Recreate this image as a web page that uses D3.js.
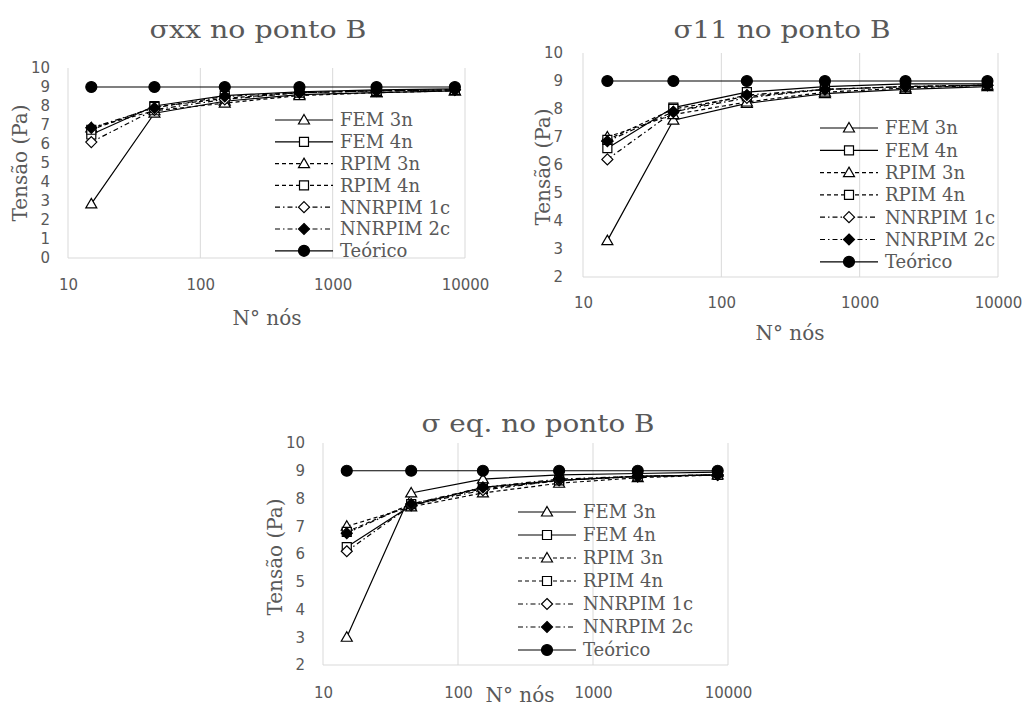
<!DOCTYPE html>
<html>
<head>
<meta charset="utf-8">
<script src="https://cdn.jsdelivr.net/npm/d3@7"></script>
<style>
  html, body { margin: 0; padding: 0; background: #fff; }
  svg { display: block; }
</style>
</head>
<body>
<svg id="chart" width="1029" height="709"></svg>
<script>
// ---------- DATA ----------
const nodes = [15, 45, 153, 561, 2145, 8385];
const seriesNames = ["FEM 3n", "FEM 4n", "RPIM 3n", "RPIM 4n", "NNRPIM 1c", "NNRPIM 2c", "Teórico"];
const xTickValues = [10, 100, 1000, 10000];
const yTicksA = [0, 1, 2, 3, 4, 5, 6, 7, 8, 9, 10];
const yTicksB = [2, 3, 4, 5, 6, 7, 8, 9, 10];

// σxx
const sxxFEM3n  = [2.85, 7.62, 8.25, 8.6, 8.7, 8.8];
const sxxFEM4n  = [6.5, 8.0, 8.55, 8.75, 8.85, 8.9];
const sxxRPIM3n = [6.85, 7.75, 8.15, 8.55, 8.7, 8.8];
const sxxRPIM4n = [6.75, 7.95, 8.4, 8.7, 8.8, 8.85];
const sxxNN1c   = [6.1, 7.8, 8.35, 8.7, 8.8, 8.85];
const sxxNN2c   = [6.85, 7.9, 8.5, 8.7, 8.8, 8.85];
const sxxTeo    = [9, 9, 9, 9, 9, 9];

// σ11
const s11FEM3n  = [3.3, 7.6, 8.2, 8.55, 8.7, 8.8];
const s11FEM4n  = [6.6, 8.05, 8.6, 8.8, 8.9, 8.9];
const s11RPIM3n = [7.0, 7.8, 8.25, 8.6, 8.75, 8.85];
const s11RPIM4n = [6.9, 8.0, 8.45, 8.7, 8.8, 8.85];
const s11NN1c   = [6.2, 7.9, 8.4, 8.7, 8.8, 8.85];
const s11NN2c   = [6.85, 7.9, 8.5, 8.7, 8.8, 8.85];
const s11Teo    = [9, 9, 9, 9, 9, 9];

// σ eq.
const seqFEM3n  = [3.0, 8.2, 8.7, 8.85, 8.9, 8.95];
const seqFEM4n  = [6.25, 7.75, 8.4, 8.65, 8.8, 8.85];
const seqRPIM3n = [7.0, 7.7, 8.2, 8.55, 8.75, 8.85];
const seqRPIM4n = [6.8, 7.8, 8.35, 8.65, 8.8, 8.85];
const seqNN1c   = [6.1, 7.75, 8.3, 8.65, 8.8, 8.85];
const seqNN2c   = [6.75, 7.8, 8.4, 8.7, 8.8, 8.85];
const seqTeo    = [9, 9, 9, 9, 9, 9];

// ---------- STYLES ----------
const markerTypes = ["triOpen", "sqOpen", "triOpen", "sqOpen", "diaOpen", "diaFill", "circFill"];
const dashTypes = [null, null, "4,3", "4,3", "5,3,1.5,3", "5,3,1.5,3", null];
const gray = "#595959";
const gridColor = "#d9d9d9";
const serif = "'DejaVu Serif', 'Liberation Serif', serif";
const sans = "'DejaVu Sans', sans-serif";

function markerPath(type) {
  switch (type) {
    case "triOpen": return "M0,-5.5L5.5,4L-5.5,4Z";
    case "sqOpen": return "M-4.5,-4.5H4.5V4.5H-4.5Z";
    case "diaOpen":
    case "diaFill": return "M0,-5.5L5.5,0L0,5.5L-5.5,0Z";
    case "circFill": return d3.symbol(d3.symbolCircle, 95)();
  }
}
function drawMarker(g, type, x, y) {
  const filled = type === "diaFill" || type === "circFill";
  g.append("path")
    .attr("d", markerPath(type))
    .attr("transform", `translate(${x},${y})`)
    .attr("fill", filled ? "#000" : "#fff")
    .attr("stroke", "#000")
    .attr("stroke-width", 1.2);
}

const svg = d3.select("#chart");

function drawChart(cfg) {
  const g = svg.append("g");
  const x = d3.scaleLog().domain([10, 10000]).range([cfg.left, cfg.right]);
  const y = d3.scaleLinear().domain(cfg.yDomain).range([cfg.bottom, cfg.top]);

  // vertical gridlines
  g.selectAll(".grid").data(xTickValues).enter().append("line")
    .attr("x1", d => x(d)).attr("x2", d => x(d))
    .attr("y1", cfg.top).attr("y2", cfg.bottom)
    .attr("stroke", gridColor).attr("stroke-width", 1);
  // bottom axis line
  g.append("line")
    .attr("x1", cfg.left).attr("x2", cfg.right)
    .attr("y1", y(cfg.yDomain[0])).attr("y2", y(cfg.yDomain[0]))
    .attr("stroke", gridColor).attr("stroke-width", 1);

  // x tick labels
  const xAxis = d3.axisBottom(x).tickValues(xTickValues).tickFormat(d3.format("d")).tickSize(0).tickPadding(0);
  const xa = g.append("g").attr("transform", `translate(0,${cfg.bottom + cfg.xLabelOffset})`).call(xAxis);
  xa.select(".domain").remove();
  xa.selectAll("text").attr("font-family", sans).attr("font-size", 15).attr("fill", gray).attr("dy", "0.35em");

  // y tick labels
  const yAxis = d3.axisLeft(y).tickValues(cfg.yTicks).tickFormat(d3.format("d")).tickSize(0).tickPadding(0);
  const ya = g.append("g").attr("transform", `translate(${cfg.left - cfg.yLabelGap},0)`).call(yAxis);
  ya.select(".domain").remove();
  ya.selectAll("text").attr("font-family", sans).attr("font-size", 15).attr("fill", gray);

  // series
  const line = d3.line().x((d, i) => x(nodes[i])).y(d => y(d));
  cfg.series.forEach((vals, si) => {
    g.append("path")
      .attr("d", line(vals))
      .attr("fill", "none")
      .attr("stroke", "#000")
      .attr("stroke-width", 1.2)
      .attr("stroke-dasharray", dashTypes[si]);
  });
  cfg.series.forEach((vals, si) => {
    vals.forEach((v, i) => drawMarker(g, markerTypes[si], x(nodes[i]), y(v)));
  });

  // title
  g.append("text")
    .attr("x", cfg.titleX).attr("y", cfg.titleY)
    .attr("text-anchor", "middle")
    .attr("font-family", serif).attr("font-size", 25).attr("fill", gray)
    .attr("textLength", cfg.titleW).attr("lengthAdjust", "spacingAndGlyphs")
    .text(cfg.title);

  // axis titles
  g.append("text")
    .attr("x", cfg.xTitleX).attr("y", cfg.xTitleY)
    .attr("text-anchor", "middle")
    .attr("font-family", serif).attr("font-size", 20).attr("fill", gray)
    .text("N° nós");
  g.append("text")
    .attr("transform", `translate(${cfg.yTitleX},${cfg.yTitleY}) rotate(-90)`)
    .attr("text-anchor", "middle").attr("dy", "0.35em")
    .attr("font-family", serif).attr("font-size", 20).attr("fill", gray)
    .text("Tensão (Pa)");

  // legend
  const lg = g.append("g");
  seriesNames.forEach((name, si) => {
    const ry = cfg.legY + si * cfg.legStep;
    lg.append("line")
      .attr("x1", cfg.legX).attr("x2", cfg.legX + 58)
      .attr("y1", ry).attr("y2", ry)
      .attr("stroke", "#000").attr("stroke-width", 1.2)
      .attr("stroke-dasharray", dashTypes[si]);
    drawMarker(lg, markerTypes[si], cfg.legX + 29, ry);
    lg.append("text")
      .attr("x", cfg.legX + 65).attr("y", ry).attr("dy", "0.36em")
      .attr("font-family", serif).attr("font-size", 18).attr("fill", gray)
      .text(name);
  });
}

drawChart({
  left: 68, right: 465, top: 68, bottom: 258,
  yDomain: [0, 10], yTicks: yTicksA, yLabelGap: 18, xLabelOffset: 27,
  series: [sxxFEM3n, sxxFEM4n, sxxRPIM3n, sxxRPIM4n, sxxNN1c, sxxNN2c, sxxTeo],
  title: "σxx no ponto B", titleX: 258, titleY: 38, titleW: 217,
  xTitleX: 267, xTitleY: 325, yTitleX: 20, yTitleY: 163,
  legX: 275, legY: 120, legStep: 21.8
});

drawChart({
  left: 583, right: 998, top: 53, bottom: 277,
  yDomain: [2, 10], yTicks: yTicksB, yLabelGap: 20, xLabelOffset: 26,
  series: [s11FEM3n, s11FEM4n, s11RPIM3n, s11RPIM4n, s11NN1c, s11NN2c, s11Teo],
  title: "σ11 no ponto B", titleX: 782, titleY: 38, titleW: 217,
  xTitleX: 790, xTitleY: 340, yTitleX: 543, yTitleY: 167,
  legX: 820, legY: 128, legStep: 22.3
});

drawChart({
  left: 323, right: 728, top: 443, bottom: 665,
  yDomain: [2, 10], yTicks: yTicksB, yLabelGap: 18, xLabelOffset: 28,
  series: [seqFEM3n, seqFEM4n, seqRPIM3n, seqRPIM4n, seqNN1c, seqNN2c, seqTeo],
  title: "σ eq. no ponto B", titleX: 538, titleY: 432, titleW: 233,
  xTitleX: 520, xTitleY: 702, yTitleX: 275, yTitleY: 557,
  legX: 518, legY: 512, legStep: 23
});
</script>
</body>
</html>
